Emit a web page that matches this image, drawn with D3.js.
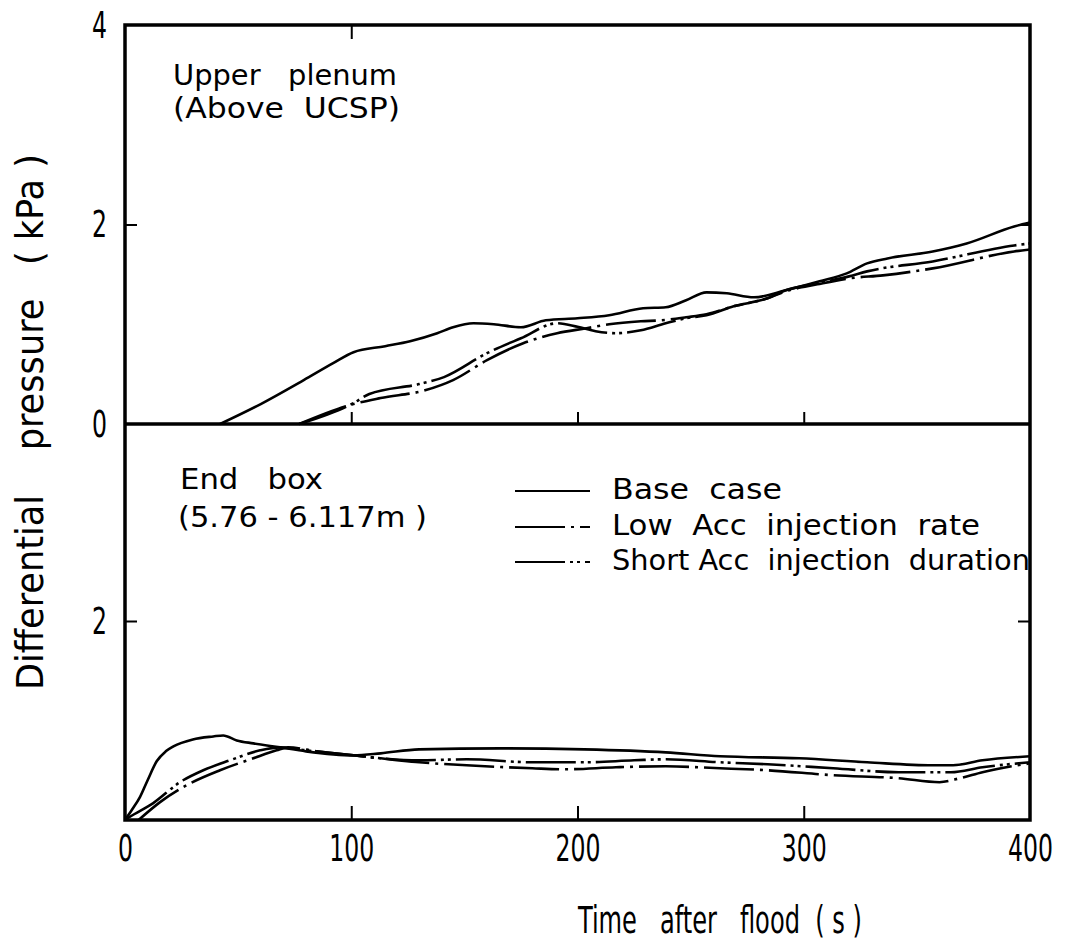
<!DOCTYPE html>
<html>
<head>
<meta charset="utf-8">
<script src="https://cdn.jsdelivr.net/npm/d3@7"></script>
<style>
  body { margin: 0; background: #fff; }
  svg text { font-family: "Liberation Sans Narrow", "DejaVu Sans Condensed", "Liberation Sans", sans-serif; fill: #000; }
</style>
</head>
<body>
<div id="chart"></div>
<script>
// time (s), differential pressure (kPa)
const upperBase = [[42,0],[60,0.2],[79,0.44],[92,0.61],[101,0.72],[115,0.78],[126,0.83],[138,0.91],[145,0.97],[154,1.01],[163,1.0],[175,0.97],[186,1.04],[200,1.06],[214,1.09],[229,1.16],[239,1.17],[248,1.24],[257,1.32],[266,1.31],[278,1.27],[292,1.34],[307,1.43],[319,1.51],[328,1.61],[337,1.66],[357,1.73],[372,1.81],[393,1.98],[400,2.02]];
const upperLow = [[77,0],[101,0.2],[113,0.26],[133,0.34],[145,0.44],[160,0.64],[176,0.81],[191,0.91],[204,0.96],[214,1.0],[228,1.03],[237,1.04],[248,1.07],[257,1.1],[269,1.18],[284,1.26],[292,1.33],[306,1.4],[320,1.46],[335,1.49],[357,1.56],[393,1.73],[400,1.75]];
const upperShort = [[77,0],[90,0.1],[101,0.21],[108,0.3],[130,0.4],[141,0.47],[160,0.71],[175,0.86],[191,1.01],[200,0.975],[208,0.93],[217,0.91],[228,0.94],[239,1.01],[248,1.06],[257,1.09],[269,1.18],[284,1.26],[292,1.34],[306,1.41],[320,1.48],[328,1.53],[357,1.63],[393,1.79],[400,1.81]];

const lowerBase = [[0,0],[3,0.1],[6.6,0.23],[10,0.4],[14,0.59],[18,0.69],[21.4,0.74],[30,0.81],[39,0.84],[43.4,0.85],[49.4,0.8],[56.7,0.77],[68.5,0.73],[80,0.69],[101,0.65],[113,0.67],[130,0.71],[166,0.72],[203,0.71],[239,0.68],[263,0.64],[298,0.62],[328,0.58],[357,0.55],[366,0.55],[379,0.6],[400,0.64]];
const lowerLow = [[6,0],[15.5,0.18],[27.3,0.35],[42,0.5],[56.7,0.62],[67,0.7],[72,0.73],[85,0.69],[101,0.65],[113,0.62],[130,0.58],[151,0.55],[180,0.52],[195,0.51],[217,0.53],[239,0.54],[263,0.52],[284,0.5],[313,0.45],[342,0.42],[360,0.38],[369,0.42],[379,0.48],[400,0.57]];
const lowerShort = [[0,0],[2,0.03],[12.5,0.17],[24.3,0.38],[34.6,0.5],[46.4,0.6],[59.7,0.7],[68.5,0.73],[80,0.7],[101,0.65],[113,0.62],[130,0.6],[151,0.61],[180,0.58],[203,0.58],[225,0.6],[239,0.61],[263,0.58],[284,0.56],[313,0.52],[342,0.48],[365,0.48],[379,0.53],[400,0.58]];

const xTicks = [0, 100, 200, 300, 400];
const yTicksUpper = [0, 2, 4];
const yTicksLower = [2];
const legendLabels = ["Base  case", "Low  Acc  injection  rate", "Short Acc  injection  duration"];
const dashes = [null, "50,6,3,6", "50,5,3,4,3,5"];

const width = 1072, height = 946;
const plot = {left: 125, right: 1030, top: 25, mid: 424, bottom: 820};

const svg = d3.select('#chart').append('svg')
    .attr('width', width)
    .attr('height', height);

const x = d3.scaleLinear().domain([0, 400]).range([plot.left, plot.right]);
const yTop = d3.scaleLinear().domain([0, 4]).range([plot.mid, plot.top]);
const yBot = d3.scaleLinear().domain([0, 4]).range([plot.bottom, plot.mid - 2]);

// frame
svg.append('rect')
    .attr('x', plot.left).attr('y', plot.top)
    .attr('width', plot.right - plot.left).attr('height', plot.bottom - plot.top)
    .attr('fill', 'none').attr('stroke', '#000').attr('stroke-width', 3.5);
svg.append('line')
    .attr('x1', plot.left).attr('x2', plot.right).attr('y1', plot.mid).attr('y2', plot.mid)
    .attr('stroke', '#000').attr('stroke-width', 3.5);

// inward ticks
function innerTicks(axis, transform) {
    const g = svg.append('g').attr('transform', transform).call(axis);
    g.select('.domain').remove();
    g.selectAll('.tick line').attr('stroke', '#000').attr('stroke-width', 2);
    g.selectAll('.tick text').remove();
}
innerTicks(d3.axisBottom(x).tickValues([100, 200, 300]).tickSize(-14), `translate(0,${plot.bottom})`);
innerTicks(d3.axisBottom(x).tickValues([100, 200, 300]).tickSize(-12), `translate(0,${plot.mid})`);
innerTicks(d3.axisTop(x).tickValues([100]).tickSize(-14), `translate(0,${plot.top})`);
innerTicks(d3.axisLeft(yTop).tickValues([2]).tickSize(-12), `translate(${plot.left},0)`);
innerTicks(d3.axisLeft(yBot).tickValues([2]).tickSize(-12), `translate(${plot.left},0)`);
innerTicks(d3.axisRight(yTop).tickValues([2]).tickSize(-12), `translate(${plot.right},0)`);
innerTicks(d3.axisRight(yBot).tickValues([2]).tickSize(-12), `translate(${plot.right},0)`);

// tick labels
const fmt = d3.format('d');
function labels(axis, transform, fontSize) {
    const g = svg.append('g').attr('transform', transform).call(axis.tickFormat(fmt));
    g.select('.domain').remove();
    g.selectAll('.tick line').remove();
    g.selectAll('.tick text')
        .attr('font-size', fontSize)
        .attr('textLength', d => fmt(d).length * 15)
        .attr('lengthAdjust', 'spacingAndGlyphs');
    return g;
}
labels(d3.axisBottom(x).tickValues(xTicks).tickSize(0).tickPadding(14), `translate(0,${plot.bottom})`, 38);
labels(d3.axisLeft(yTop).tickValues(yTicksUpper).tickSize(0).tickPadding(18), `translate(${plot.left},0)`, 38);
labels(d3.axisLeft(yBot).tickValues(yTicksLower).tickSize(0).tickPadding(18), `translate(${plot.left},0)`, 38);

// curves
const lineTop = d3.line().x(d => x(d[0])).y(d => yTop(d[1])).curve(d3.curveMonotoneX);
const lineBot = d3.line().x(d => x(d[0])).y(d => yBot(d[1])).curve(d3.curveMonotoneX);

[[upperBase, lineTop, 0], [upperLow, lineTop, 1], [upperShort, lineTop, 2],
 [lowerBase, lineBot, 0], [lowerLow, lineBot, 1], [lowerShort, lineBot, 2]].forEach(([data, gen, i]) => {
    svg.append('path')
        .attr('d', gen(data))
        .attr('fill', 'none')
        .attr('stroke', '#000')
        .attr('stroke-width', 2.6)
        .attr('stroke-dasharray', dashes[i]);
});

// legend
const legendY = [491, 527, 562];
const legendW = [170, 368, 418];
legendLabels.forEach((name, i) => {
    svg.append('line')
        .attr('x1', 515).attr('x2', 590)
        .attr('y1', legendY[i]).attr('y2', legendY[i])
        .attr('stroke', '#000').attr('stroke-width', 2.2)
        .attr('stroke-dasharray', dashes[i]);
    svg.append('text')
        .attr('x', 612).attr('y', legendY[i] + 8)
        .attr('font-size', 28)
        .attr('textLength', legendW[i])
        .attr('lengthAdjust', 'spacingAndGlyphs')
        .style('white-space', 'pre')
        .text(name);
});

// panel notes
function note(txt, xPos, yPos, len) {
    svg.append('text')
        .attr('x', xPos).attr('y', yPos)
        .attr('font-size', 29)
        .attr('textLength', len)
        .attr('lengthAdjust', 'spacingAndGlyphs')
        .style('white-space', 'pre')
        .text(txt);
}
note('Upper   plenum', 173, 85, 224);
note('(Above  UCSP)', 173, 118, 227);
note('End   box', 180, 489, 143);
note('(5.76 - 6.117m )', 178, 527, 249);

// axis titles
svg.append('text')
    .attr('x', 720).attr('y', 933)
    .attr('text-anchor', 'middle')
    .attr('font-size', 37)
    .attr('textLength', 284)
    .attr('lengthAdjust', 'spacingAndGlyphs')
    .style('white-space', 'pre')
    .text('Time   after   flood  ( s )');

svg.append('text')
    .attr('transform', 'translate(43,422) rotate(-90)')
    .attr('text-anchor', 'middle')
    .attr('font-size', 37)
    .attr('textLength', 536)
    .attr('lengthAdjust', 'spacingAndGlyphs')
    .style('white-space', 'pre')
    .text('Differential    pressure   ( kPa )');
</script>
</body>
</html>
